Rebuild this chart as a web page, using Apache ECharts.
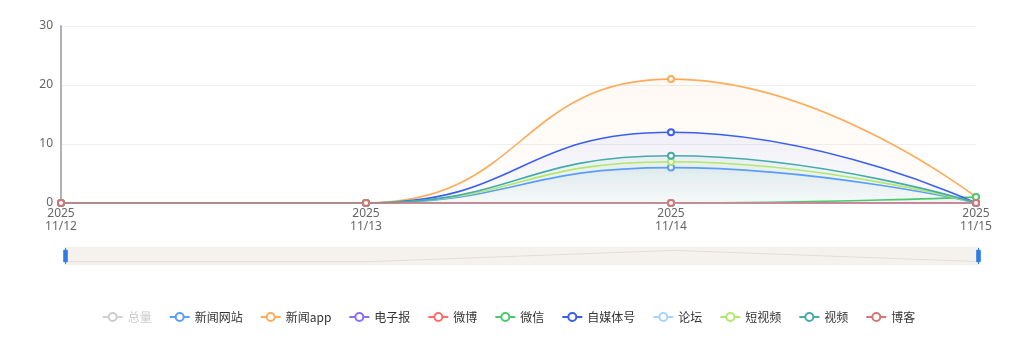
<!DOCTYPE html>
<html><head><meta charset="utf-8">
<script src="https://cdn.jsdelivr.net/npm/echarts@6/dist/echarts.min.js"></script>
<style>html,body{margin:0;padding:0;background:#fff}#c{width:1017px;height:340px}</style>
</head><body><div id="c"></div>
<script>
const categories = ['2025\n11/12', '2025\n11/13', '2025\n11/14', '2025\n11/15'];
const seriesNames = ['总量','新闻网站','新闻app','电子报','微博','微信','自媒体号','论坛','短视频','视频','博客'];
const seriesColors = ['#a0a0a0','#5b9dff','#ffab5c','#8a6dff','#ff6b6b','#4cc96e','#3a5ef0','#a9d2ff','#b2e86c','#45abab','#d47676'];
const total    = [0, 0, 54, 2];
const newsSite = [0, 0, 6, 0];
const newsApp  = [0, 0, 21, 1];
const epaper   = [0, 0, 0, 0];
const weibo    = [0, 0, 0, 0];
const wechat   = [0, 0, 0, 1];
const media    = [0, 0, 12, 0];
const forum    = [0, 0, 0, 0];
const shortVid = [0, 0, 7, 0];
const video    = [0, 0, 8, 0];
const blog     = [0, 0, 0, 0];
const yTicks = {min: 0, max: 30, interval: 10};

const dataList = [total, newsSite, newsApp, epaper, weibo, wechat, media, forum, shortVid, video, blog];
function hexA(h, a){const r=parseInt(h.slice(1,3),16),g=parseInt(h.slice(3,5),16),b=parseInt(h.slice(5,7),16);return `rgba(${r},${g},${b},${a})`;}
const series = seriesNames.map((n,i)=>({
  name:n, type:'line', smooth:true, data:dataList[i],
  symbol:'emptyCircle', symbolSize:6, showSymbol:true,
  itemStyle:{color:seriesColors[i], borderWidth:2},
  lineStyle:{width:1.6, color:seriesColors[i]},
  areaStyle:{color:{type:'linear',x:0,y:0,x2:0,y2:1,colorStops:[{offset:0,color:hexA(seriesColors[i],0.1)},{offset:1,color:hexA(seriesColors[i],0.02)}]}}
}));
const selected = {}; seriesNames.forEach(n=>selected[n]=true); selected['总量']=false;
const chart = echarts.init(document.getElementById('c'));
chart.setOption({
  animation:false,
  color: seriesColors,
  grid:{left:61, right:41, top:26, bottom:137},
  xAxis:{type:'category', boundaryGap:false, data:categories,
    axisLine:{show:true, lineStyle:{color:'#b0b0b8'}}, axisTick:{show:false},
    axisLabel:{color:'#666', fontSize:12, lineHeight:13, margin:4, fontFamily:'Noto Sans'}},
  yAxis:{type:'value', min:yTicks.min, max:yTicks.max, interval:yTicks.interval,
    axisLine:{show:true, lineStyle:{color:'#b0b0b8', width:2}}, axisTick:{show:false},
    axisLabel:{color:'#666', fontSize:12, margin:8, fontFamily:'Noto Sans'},
    splitLine:{lineStyle:{color:'#eeeeee'}}},
  dataZoom:[{type:'slider', left:62, right:40, top:247, height:18, start:0, end:100,
    backgroundColor:'#f6f2ee', fillerColor:'rgba(245,240,235,0.2)', borderColor:'transparent',
    handleIcon:'path://M3,0 L3,4 M0,4 L6,4 L6,24 L0,24 Z M3,24 L3,28', handleSize:'90%',
    handleStyle:{color:'#2e7ae6', borderColor:'#2e7ae6', borderWidth:1},
    moveHandleSize:0, showDetail:false, showDataShadow:true,
    dataBackground:{lineStyle:{color:'#ddd8d2', width:1, opacity:1}, areaStyle:{color:'#f6f2ee', opacity:0}},
    selectedDataBackground:{lineStyle:{color:'#ddd8d2', width:1, opacity:1}, areaStyle:{opacity:0}},
    brushSelect:false}],
  legend:{bottom:12, left:'center', itemGap:17, itemWidth:20, itemHeight:10, selected,
    inactiveColor:'#ccc',
    textStyle:{color:'#333', fontSize:12, fontFamily:'Noto Sans CJK SC'}},
  series
});
</script></body></html>
